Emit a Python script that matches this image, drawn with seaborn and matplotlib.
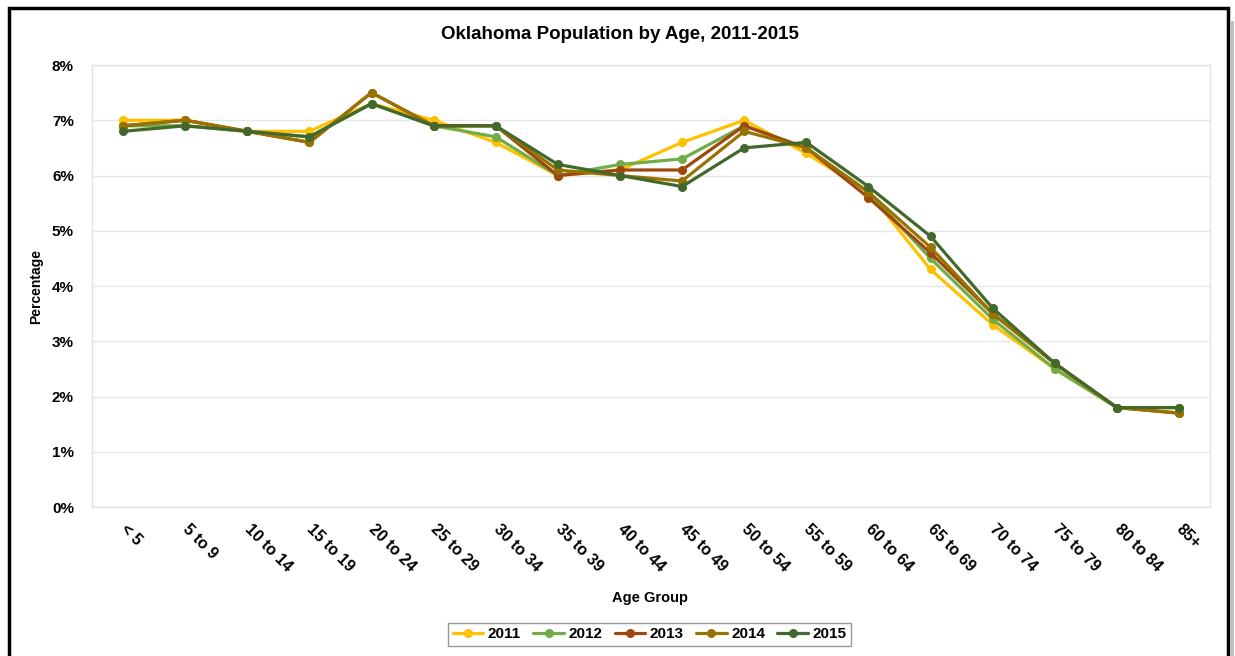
import matplotlib
matplotlib.use("Agg")
import matplotlib.pyplot as plt
import matplotlib.patches as mpatches
from matplotlib.ticker import FuncFormatter
import pandas as pd
import seaborn as sns

# Age groups and percentage of population per year
age_groups = ["< 5", "5 to 9", "10 to 14", "15 to 19", "20 to 24", "25 to 29",
              "30 to 34", "35 to 39", "40 to 44", "45 to 49", "50 to 54", "55 to 59",
              "60 to 64", "65 to 69", "70 to 74", "75 to 79", "80 to 84", "85+"]
pct_2011 = [7.0, 7.0, 6.8, 6.8, 7.3, 7.0, 6.6, 6.0, 6.1, 6.6, 7.0, 6.4, 5.7, 4.3, 3.3, 2.5, 1.8, 1.8]
pct_2012 = [6.9, 6.9, 6.8, 6.7, 7.3, 6.9, 6.7, 6.0, 6.2, 6.3, 6.9, 6.5, 5.7, 4.5, 3.4, 2.5, 1.8, 1.8]
pct_2013 = [6.9, 7.0, 6.8, 6.6, 7.5, 6.9, 6.9, 6.0, 6.1, 6.1, 6.9, 6.5, 5.6, 4.6, 3.5, 2.6, 1.8, 1.7]
pct_2014 = [6.9, 7.0, 6.8, 6.6, 7.5, 6.9, 6.9, 6.1, 6.0, 5.9, 6.8, 6.5, 5.7, 4.7, 3.5, 2.6, 1.8, 1.7]
pct_2015 = [6.8, 6.9, 6.8, 6.7, 7.3, 6.9, 6.9, 6.2, 6.0, 5.8, 6.5, 6.6, 5.8, 4.9, 3.6, 2.6, 1.8, 1.8]
years = ["2011", "2012", "2013", "2014", "2015"]

colors = {"2011": "#FFC000", "2012": "#70AD47", "2013": "#9E480E",
          "2014": "#997300", "2015": "#43682B"}

series = [pct_2011, pct_2012, pct_2013, pct_2014, pct_2015]
frames = [pd.DataFrame({"age": age_groups, "pct": vals, "year": yr})
          for yr, vals in zip(years, series)]
df = pd.concat(frames, ignore_index=True)

sns.set_theme(style="white")
plt.rcParams["font.family"] = ["Liberation Sans", "DejaVu Sans"]
plt.rcParams["font.weight"] = "bold"
plt.rcParams["text.color"] = "black"
plt.rcParams["xtick.color"] = "black"
plt.rcParams["ytick.color"] = "black"
plt.rcParams["axes.labelcolor"] = "black"

fig = plt.figure(figsize=(12.35, 6.56), dpi=100)
ax = fig.add_axes([0.0745, 0.2271, 0.9053, 0.6738])

sns.lineplot(data=df, x="age", y="pct", hue="year", palette=colors, marker="o",
             markersize=6.5, markeredgewidth=0, linewidth=2.3, sort=False, ax=ax)

ax.set_ylim(0, 8)
ax.set_xlim(-0.5, len(age_groups) - 0.5)
ax.set_yticks(range(0, 9))
ax.yaxis.set_major_formatter(FuncFormatter(lambda v, _: f"{int(v)}%"))
ax.grid(axis="y", color="#E6E6E6", linewidth=1)
ax.grid(axis="x", visible=False)
for sp in ax.spines.values():
    sp.set_color("#E3E3E3")
    sp.set_linewidth(1)
ax.tick_params(axis="y", labelsize=11, length=0, pad=13)
ax.tick_params(axis="x", labelsize=11.5, length=0, pad=14)
for lbl in ax.get_xticklabels():
    lbl.set_rotation(-45)
    lbl.set_ha("left")
    lbl.set_va("center")
    lbl.set_rotation_mode("anchor")
    lbl.set_fontweight("bold")
for lbl in ax.get_yticklabels():
    lbl.set_fontweight("bold")

ax.set_xlabel("")
ax.set_ylabel("Percentage", fontsize=10, fontweight="bold", labelpad=6)
fig.text(0.526, 0.088, "Age Group", ha="center", va="center", fontsize=10.5, fontweight="bold")
fig.text(0.502, 0.947, "Oklahoma Population by Age, 2011-2015", ha="center", va="center",
         fontsize=13.5, fontweight="bold")

handles, labels = ax.get_legend_handles_labels()
ax.legend(handles, labels, loc="center", bbox_to_anchor=(0.526, 0.033),
          bbox_transform=fig.transFigure, ncol=5, frameon=True, fancybox=False,
          edgecolor="#7F7F7F", handlelength=2.0, columnspacing=0.8,
          handletextpad=0.3, borderpad=0.3, prop={"weight": "bold", "size": 11})

# outer frame with a soft shadow on the right
fig.patches.append(mpatches.Rectangle((1231 / 1235, -0.1), 3 / 1235, 1.08 - 8 / 656,
                                      transform=fig.transFigure, facecolor="#BFBFBF",
                                      edgecolor="none", zorder=0))
fig.patches.append(mpatches.Rectangle((9 / 1235, -0.1), 1219 / 1235, 1.1 - 8 / 656,
                                      transform=fig.transFigure, facecolor="none",
                                      edgecolor="black", linewidth=2.5, zorder=5))

fig.savefig("out.png", dpi=100)
